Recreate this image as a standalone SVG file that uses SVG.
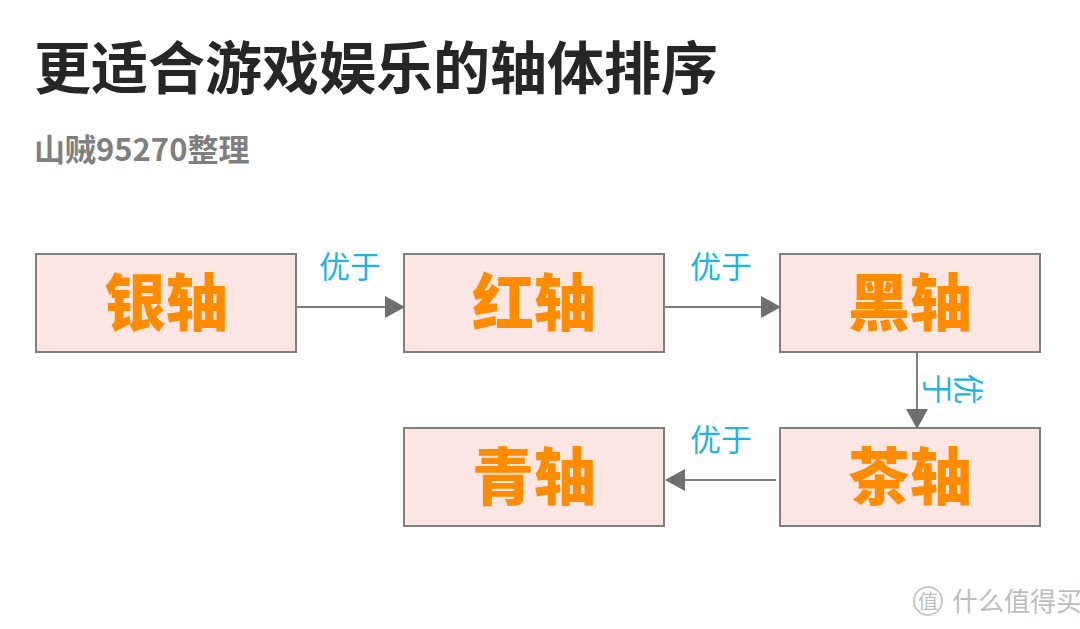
<svg xmlns="http://www.w3.org/2000/svg" width="1080" height="629" viewBox="0 0 1080 629">
<style>
.box{fill:#fbe6e4;stroke:#7f7f7f;stroke-width:2}
.nt{font-family:"Noto Sans CJK SC",sans-serif;font-weight:900;font-size:62px;fill:#ff8c00;text-anchor:middle}
.lb{font-family:"Noto Sans CJK SC",sans-serif;font-size:31px;fill:#1fb5e0;text-anchor:middle}
.ln{stroke:#7f7f7f;stroke-width:2;fill:none}
</style>
<defs><marker id="arb" markerWidth="20" markerHeight="22" refX="19" refY="11" orient="auto" markerUnits="userSpaceOnUse" viewBox="0 0 20 22"><path d="M0,0L20,11L0,22z" fill="#6f6f6f"/></marker></defs>
<rect width="1080" height="629" fill="#fff"/>
<text x="34" y="89" font-family="Noto Sans CJK SC,sans-serif" font-weight="700" font-size="57" fill="#262626">更适合游戏娱乐的轴体排序</text>
<text x="34" y="161" font-family="Noto Sans CJK SC,sans-serif" font-weight="700" font-size="31" fill="#7f7f7f">山贼95270整理</text>
<g id="n1"><rect class="box" x="36" y="254" width="260" height="98"/><text class="nt" x="166" y="326">银轴</text></g>
<g id="n2"><rect class="box" x="404" y="254" width="260" height="98"/><text class="nt" x="534" y="326">红轴</text></g>
<g id="n3"><rect class="box" x="780" y="254" width="260" height="98"/><text class="nt" x="910" y="326">黑轴</text></g>
<g id="n4"><rect class="box" x="780" y="428" width="260" height="98"/><text class="nt" x="910" y="500">茶轴</text></g>
<g id="n5"><rect class="box" x="404" y="428" width="260" height="98"/><text class="nt" x="534" y="500">青轴</text></g>
<g id="edges">
<line class="ln" x1="296" y1="307" x2="404" y2="307" marker-end="url(#arb)"/>
<line class="ln" x1="664" y1="307" x2="780" y2="307" marker-end="url(#arb)"/>
<line class="ln" x1="917" y1="352" x2="917" y2="428" marker-end="url(#arb)"/>
<line class="ln" x1="776" y1="480" x2="666" y2="480" marker-end="url(#arb)"/>
<text class="lb" x="350" y="278">优于</text>
<text class="lb" x="721" y="278">优于</text>
<text class="lb" x="721" y="451">优于</text>
<text class="lb" writing-mode="tb" transform="translate(953,389) rotate(90)">优于</text>
</g>
<g id="wm" fill="#bdbdbd" font-family="Noto Sans CJK SC,sans-serif">
<circle cx="928" cy="601" r="14" fill="none" stroke="#c8c8c8" stroke-width="2"/>
<text x="928" y="609" font-size="20" text-anchor="middle">值</text>
<text x="952" y="611" font-size="26">什么值得买</text>
</g>
</svg>
